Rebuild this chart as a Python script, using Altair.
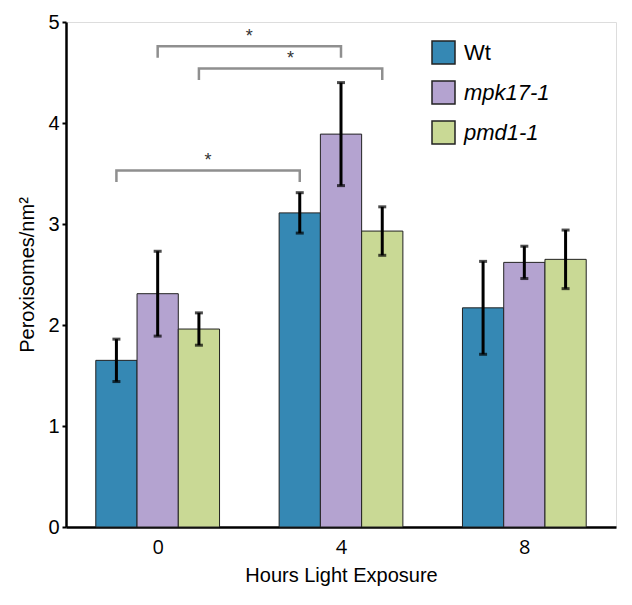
import altair as alt
import pandas as pd

# ---- data ----
hours = [0, 4, 8]
genotypes = ["Wt", "mpk17-1", "pmd1-1"]
colors = ["#3588b4", "#b4a3d0", "#c9d995"]

means_wt = [1.65, 3.11, 2.17]
means_mpk = [2.31, 3.89, 2.62]
means_pmd = [1.96, 2.93, 2.65]

err_wt = [0.21, 0.20, 0.46]
err_mpk = [0.42, 0.51, 0.16]
err_pmd = [0.16, 0.24, 0.29]

# significance brackets: genotype, from hour, to hour, bracket level
br_genotype = ["mpk17-1", "pmd1-1", "Wt"]
br_from = [0, 0, 0]
br_to = [4, 4, 4]
br_level = [4.76, 4.54, 3.53]
br_label = ["*", "*", "*"]

BAR_W = 0.9  # bar width in hour units (style)
LEG_DROP = 0.115
STAR_RAISE = 0.09

means = [means_wt, means_mpk, means_pmd]
errs = [err_wt, err_mpk, err_pmd]

rows = []
for gi, g in enumerate(genotypes):
    for hi, h in enumerate(hours):
        rows.append({"hour": h, "genotype": g, "slot": gi - 1,
                     "mean": means[gi][hi], "err": errs[gi][hi]})
df = pd.DataFrame(rows)

line_rows, star_rows = [], []
for k, g in enumerate(br_genotype):
    slot = genotypes.index(g) - 1
    pts = [(br_from[k], br_level[k] - LEG_DROP), (br_from[k], br_level[k]),
           (br_to[k], br_level[k]), (br_to[k], br_level[k] - LEG_DROP)]
    for j, (h, y) in enumerate(pts):
        line_rows.append({"bracket": k, "seq": j, "hour": h, "slot": slot, "y": y})
    star_rows.append({"hour": (br_from[k] + br_to[k]) / 2, "slot": slot,
                      "y": br_level[k] + STAR_RAISE, "label": br_label[k]})
df_br = pd.DataFrame(line_rows)
df_star = pd.DataFrame(star_rows)

xscale = alt.Scale(domain=[-2, 10], nice=False)
yscale = alt.Scale(domain=[0, 5], nice=False)

base = alt.Chart(df).transform_calculate(
    xc=f"datum.hour + datum.slot * {BAR_W}",
    x0=f"datum.hour + datum.slot * {BAR_W} - {BAR_W / 2}",
    x1=f"datum.hour + datum.slot * {BAR_W} + {BAR_W / 2}",
    lo="datum.mean - datum.err",
    hi="datum.mean + datum.err",
)

xaxis = alt.Axis(values=hours, title="Hours Light Exposure", ticks=False,
                 labelFont="Open Sans", labelFontSize=20, labelPadding=10,
                 titleFont="Liberation Sans", titleFontSize=20, titlePadding=8,
                 titleFontWeight="normal", labelColor="black", titleColor="black",
                 domainColor="black", domainWidth=2.5, grid=False)
yaxis = alt.Axis(values=[0, 1, 2, 3, 4, 5], format="d", title="Peroxisomes/nm²",
                 labelFont="Liberation Sans", labelFontSize=20, labelPadding=3,
                 tickSize=4, tickWidth=2, tickColor="black",
                 titleFont="Liberation Sans", titleFontSize=20, titlePadding=10,
                 titleFontWeight="normal", labelColor="black", titleColor="black",
                 domainColor="black", domainWidth=2.5, grid=False)

legend = alt.Legend(
    title=None, orient="none", legendX=365, legendY=18, padding=0,
    symbolType="square", symbolSize=529, symbolStrokeColor="#222222",
    symbolStrokeWidth=1.5, symbolOpacity=1, labelFont="Liberation Sans",
    labelFontSize=22, labelColor="black", labelOffset=8, rowPadding=11,
    labelLimit=200,
    labelFontStyle=alt.ExprRef("datum.value === 'Wt' ? 'normal' : 'italic'"),
)

bars = base.mark_bar(stroke="#222222", strokeWidth=1, opacity=1).encode(
    x=alt.X("x0:Q", scale=xscale, axis=xaxis),
    x2="x1:Q",
    y=alt.Y("mean:Q", scale=yscale, axis=yaxis),
    y2=alt.datum(0),
    color=alt.Color("genotype:N", scale=alt.Scale(domain=genotypes, range=colors),
                    legend=legend),
)

err_rule = base.mark_rule(color="black", strokeWidth=3).encode(
    x="xc:Q", y="lo:Q", y2="hi:Q")
cap_lo = base.mark_tick(color="black", thickness=3, size=8, orient="horizontal").encode(
    x="xc:Q", y="lo:Q")
cap_hi = base.mark_tick(color="black", thickness=3, size=8, orient="horizontal").encode(
    x="xc:Q", y="hi:Q")

brackets = alt.Chart(df_br).transform_calculate(
    xb=f"datum.hour + datum.slot * {BAR_W}"
).mark_line(color="#8f8f8f", strokeWidth=2.5).encode(
    x="xb:Q", y="y:Q", detail="bracket:N", order="seq:Q")

stars = alt.Chart(df_star).transform_calculate(
    xs=f"datum.hour + datum.slot * {BAR_W}"
).mark_text(fontSize=18, color="#333333", font="Liberation Sans",
            baseline="middle", align="center").encode(
    x="xs:Q", y="y:Q", text="label:N")

chart = alt.layer(bars, err_rule, cap_lo, cap_hi, brackets, stars).properties(
    width=550, height=505,
    padding={"left": 58, "top": 14, "right": 8, "bottom": 70},
    autosize=alt.AutoSizeParams(type="none"),
).configure_view(stroke=None).configure(background="white")

chart.save("out.html", embed_options={"renderer": "svg", "actions": False})
